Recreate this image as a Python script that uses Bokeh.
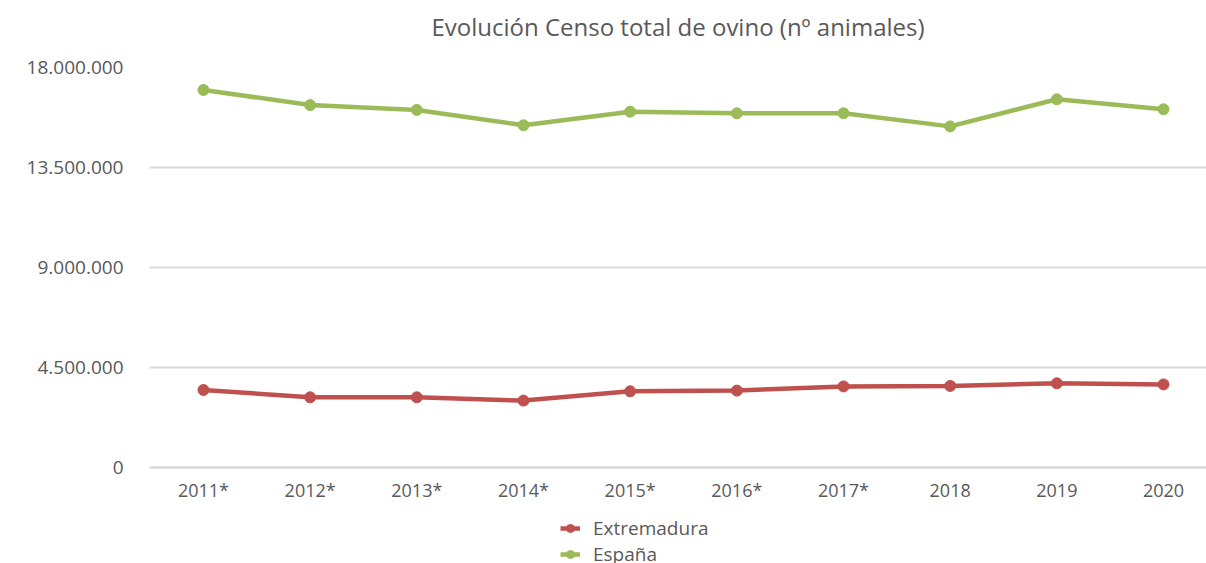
from bokeh.plotting import figure
from bokeh.models import Range1d, FixedTicker, Legend, LegendItem, Title
from bokeh.embed import file_html
from bokeh.resources import INLINE

years = ["2011*", "2012*", "2013*", "2014*", "2015*", "2016*", "2017*", "2018", "2019", "2020"]
extremadura = [3490000, 3160000, 3160000, 3010000, 3430000, 3460000, 3650000, 3670000, 3790000, 3740000]
espana = [16990000, 16310000, 16090000, 15400000, 16010000, 15940000, 15940000, 15350000, 16570000, 16120000]
y_ticks = [0, 4500000, 9000000, 13500000, 18000000]
y_tick_labels = ["0", "4.500.000", "9.000.000", "13.500.000", "18.000.000"]

FONT = "Open Sans"
TXT = "#595959"
GRID = "#D9D9D9"
RED = "#C0504D"
GREEN = "#9BBB59"

xs = list(range(len(years)))

# frame extends below the zero line so the legend can sit in the lower area
p = figure(frame_width=1057, frame_height=496, output_backend="svg", toolbar_location=None,
           x_range=Range1d(-0.506, 9.403), y_range=Range1d(-4320000, 18000000),
           min_border_left=149, min_border_right=0, min_border_top=67, min_border_bottom=0,
           title="Evolución Censo total de ovino (nº animales)")
p.outline_line_color = None
p.title.align = "center"
p.title.text_font = FONT
p.title.text_font_style = "normal"
p.title.text_font_size = "24px"
p.title.text_color = TXT
p.title.standoff = 0
p.title.offset = 0
p.add_layout(Title(text=" ", text_font_size="1px", standoff=22), "above")

p.xaxis.ticker = FixedTicker(ticks=xs)
p.xaxis.major_label_overrides = {i: lab for i, lab in enumerate(years)}
p.xaxis.fixed_location = 0
p.yaxis.ticker = FixedTicker(ticks=y_ticks)
p.yaxis.major_label_overrides = {t: lab for t, lab in zip(y_ticks, y_tick_labels)}

for ax in (p.xaxis[0], p.yaxis[0]):
    ax.major_tick_line_color = None
    ax.minor_tick_line_color = None
    ax.major_label_text_font = FONT
    ax.major_label_text_color = TXT
p.xaxis.major_label_text_font_size = "18px"
p.yaxis.major_label_text_font_size = "19px"
p.xaxis.axis_line_color = GRID
p.xaxis.axis_line_width = 2
p.xaxis.major_label_standoff = 4
p.yaxis.axis_line_color = None
p.yaxis.major_label_standoff = 20

p.xgrid.grid_line_color = None
p.ygrid.grid_line_color = GRID
p.ygrid.grid_line_width = 2

l1 = p.line(xs, extremadura, line_color=RED, line_width=4.5)
s1 = p.scatter(xs, extremadura, size=11, fill_color=RED, line_color=RED)
l2 = p.line(xs, espana, line_color=GREEN, line_width=4.5)
s2 = p.scatter(xs, espana, size=11, fill_color=GREEN, line_color=GREEN)

legend = Legend(items=[LegendItem(label="Extremadura", renderers=[l1, s1]),
                       LegendItem(label="España", renderers=[l2, s2])],
                orientation="vertical", location=(411, -4))
legend.border_line_color = None
legend.background_fill_alpha = 0
legend.label_text_font = FONT
legend.label_text_font_size = "19px"
legend.label_text_color = TXT
legend.glyph_width = 20
legend.glyph_height = 20
legend.label_height = 20
legend.spacing = 0
legend.padding = 0
legend.margin = 0
legend.label_standoff = 13
p.add_layout(legend, "center")

open("out.html", "w").write(file_html(p, INLINE))
